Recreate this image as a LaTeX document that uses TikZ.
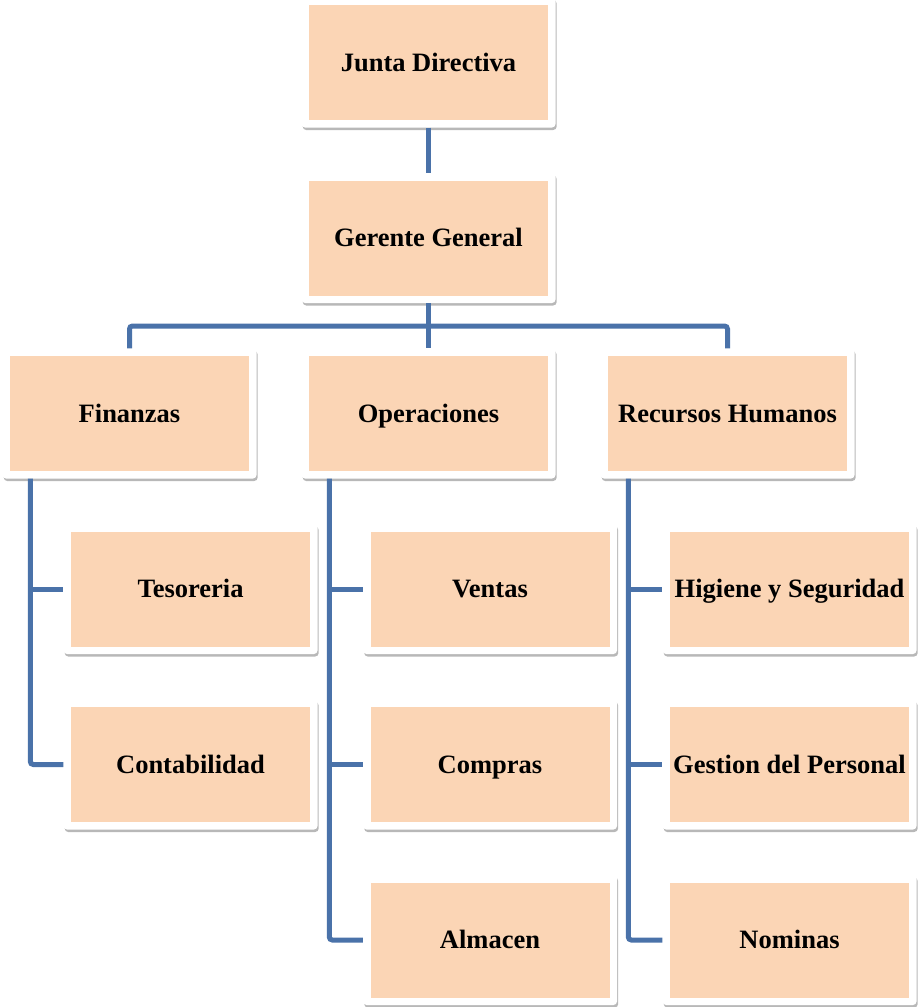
\documentclass[tikz,border=0pt]{standalone}
\usepackage{fontspec}
\setmainfont{Liberation Serif}
\usetikzlibrary{shadows}
\definecolor{peach}{HTML}{FBD5B5}
\definecolor{linkblue}{HTML}{4A72A9}
\tikzset{
  orgbox/.style={rectangle, rounded corners=3.5pt, fill=white,
    minimum width=254pt, minimum height=130pt, inner sep=0pt,
    text height=19pt, text depth=2pt,
    font=\fontsize{26.5pt}{30pt}\selectfont\bfseries, text=black,
    drop shadow={shadow xshift=1.2pt, shadow yshift=-2.5pt, opacity=0.28, fill=black},
    path picture={\fill[peach, sharp corners] ([shift={(7.5pt,7.5pt)}]path picture bounding box.south west) rectangle ([shift={(-7.5pt,-7.5pt)}]path picture bounding box.north east);}},
  conn/.style={draw=linkblue, line width=5pt, rounded corners=3pt}
}
\begin{document}
\begin{tikzpicture}[x=1pt, y=-1pt]
\useasboundingbox (0,0) rectangle (918,1007);
\coordinate (bar) at (428.5,326);
\node[orgbox] (jd) at (428.5,62.5) {Junta Directiva};
\node[orgbox] (gg) at (428.5,238) {Gerente General};
\node[orgbox] (fin) at (129.5,413.5) {Finanzas};
\node[orgbox] (ops) at (428.5,413.5) {Operaciones};
\node[orgbox] (rh) at (727.5,413.5) {Recursos Humanos};
\node[orgbox] (tes) at (190.5,589) {Tesoreria};
\node[orgbox] (cont) at (190.5,764.5) {Contabilidad};
\node[orgbox] (ven) at (490,589) {Ventas};
\node[orgbox] (com) at (490,764.5) {Compras};
\node[orgbox] (alm) at (490,940) {Almacen};
\node[orgbox] (hig) at (789.5,589) {Higiene y Seguridad};
\node[orgbox] (gp) at (789.5,764.5) {Gestion del Personal};
\node[orgbox] (nom) at (789.5,940) {Nominas};
\draw[conn] (jd.south) -- (gg.north);
\draw[conn] (gg.south) -- (ops.north);
\draw[conn] (fin.north) -- (fin.north |- bar) -- (rh.north |- bar) -- (rh.north);
\draw[conn] ([xshift=28pt]fin.south west) |- (cont.west);
\draw[conn] ([xshift=28pt]fin.south west |- tes.west) -- (tes.west);
\draw[conn] ([xshift=28pt]ops.south west) |- (alm.west);
\draw[conn] ([xshift=28pt]ops.south west |- ven.west) -- (ven.west);
\draw[conn] ([xshift=28pt]ops.south west |- com.west) -- (com.west);
\draw[conn] ([xshift=28pt]rh.south west) |- (nom.west);
\draw[conn] ([xshift=28pt]rh.south west |- hig.west) -- (hig.west);
\draw[conn] ([xshift=28pt]rh.south west |- gp.west) -- (gp.west);
\end{tikzpicture}
\end{document}
